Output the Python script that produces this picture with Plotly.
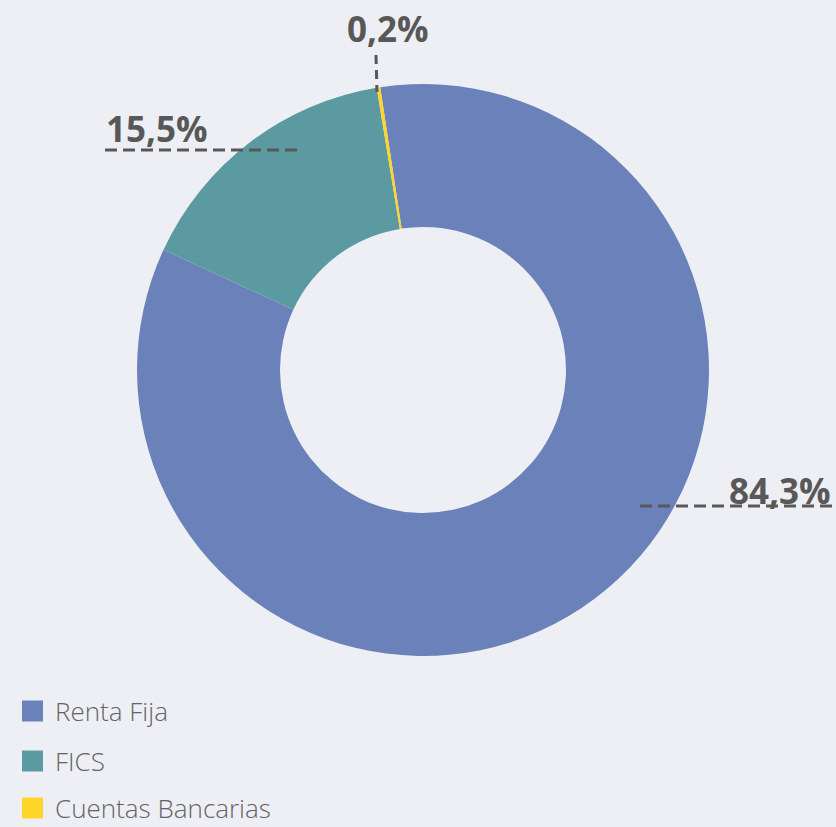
import plotly.graph_objects as go

categories = ["Renta Fija", "FICS", "Cuentas Bancarias"]
values = [84.3, 15.5, 0.2]
value_labels = ["84,3%", "15,5%", "0,2%"]
colors = ["#6A82B9", "#5A9AA0", "#FFD52A"]

W, H = 836, 827
BG = "#EEEFF4"
TXT = "#585858"

def px(x):
    return x / W

def py(y):
    return 1 - y / H

fig = go.Figure()
fig.add_trace(go.Pie(
    labels=categories,
    values=values,
    hole=0.5,
    sort=False,
    direction="clockwise",
    rotation=-8.6,
    marker=dict(colors=colors, line=dict(width=0)),
    textinfo="none",
    hoverinfo="label+percent",
    showlegend=False,
    domain=dict(x=[px(137), px(709)], y=[py(656), py(84)]),
))

shapes = []
annotations = []

dash_line = dict(color=TXT, width=3, dash="12px,6px")
shapes.append(dict(type="line", xref="paper", yref="paper",
                   x0=px(640), x1=px(833), y0=py(506), y1=py(506), line=dash_line))
shapes.append(dict(type="line", xref="paper", yref="paper",
                   x0=px(105), x1=px(297), y0=py(150), y1=py(150), line=dash_line))
shapes.append(dict(type="line", xref="paper", yref="paper",
                   x0=px(376), x1=px(377), y0=py(55), y1=py(92),
                   line=dict(color=TXT, width=3, dash="9px,6px")))

label_pos = [(833, 490, "right"), (104, 128, "left"), (388, 29, "center")]
for lab, (x, y, anchor) in zip(value_labels, label_pos):
    annotations.append(dict(text="<b>" + lab + "</b>", xref="paper", yref="paper",
                            x=px(x), y=py(y), xanchor=anchor, yanchor="middle",
                            showarrow=False,
                            font=dict(family="Open Sans", size=35, color=TXT)))

leg_y = [711, 761, 808]
for cat, col, y in zip(categories, colors, leg_y):
    shapes.append(dict(type="rect", xref="paper", yref="paper",
                       x0=px(22), x1=px(43), y0=py(y - 10.5), y1=py(y + 10.5),
                       fillcolor=col, line=dict(width=0)))
    annotations.append(dict(text=cat, xref="paper", yref="paper",
                            x=px(54), y=py(y), xanchor="left", yanchor="middle",
                            showarrow=False, borderpad=0,
                            font=dict(family="Open Sans", size=26, weight=300, color="#646464")))

fig.update_layout(
    width=W, height=H,
    margin=dict(l=0, r=0, t=0, b=0),
    paper_bgcolor=BG, plot_bgcolor=BG,
    shapes=shapes, annotations=annotations,
)

fig.write_html("out.html", config={"displayModeBar": False},
               post_script="document.body.style.margin='0';document.body.style.overflow='hidden';")
